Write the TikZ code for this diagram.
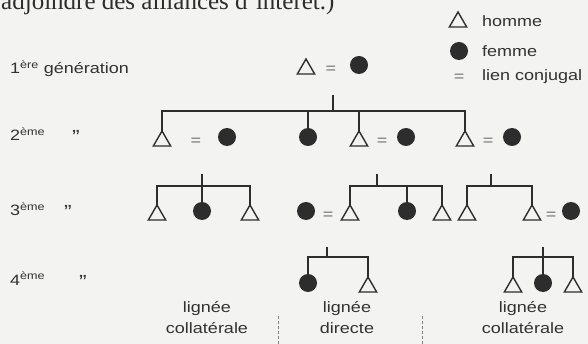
\documentclass[tikz,border=0pt]{standalone}
\usepackage{fontspec}
\setmainfont{Liberation Sans}[FakeStretch=1.2]
\newfontfamily\toptextfont{Liberation Serif}
\usetikzlibrary{shapes.geometric}
\definecolor{bgc}{RGB}{243,243,241}
\definecolor{ink}{RGB}{45,45,45}
\definecolor{txt}{RGB}{50,50,50}
\definecolor{eqc}{RGB}{110,110,110}
\begin{document}
\begin{tikzpicture}[x=1pt,y=-1pt,
  man/.style={draw=ink, line width=1.4pt, regular polygon, regular polygon sides=3, minimum size=20pt, inner sep=0pt, outer sep=0pt},
  woman/.style={circle, fill=ink, minimum size=18pt, inner sep=0pt, outer sep=0pt},
  eq/.style={text=eqc, font=\fontsize{15}{15}\selectfont, inner sep=0pt},
  lbl/.style={text=txt, font=\fontsize{15}{15}\selectfont, inner sep=0pt, anchor=base west},
  ditto/.style={text=txt, font=\fontsize{19}{19}\selectfont, inner sep=0pt, anchor=base west},
  bot/.style={text=txt, font=\fontsize{15}{21}\selectfont, inner sep=0pt, align=center, anchor=base},
  link/.style={draw=ink, line width=1.3pt},
  sep/.style={draw=gray, line width=0.8pt, dash pattern=on 3pt off 2pt}]
\useasboundingbox (0,0) rectangle (588,344);
\fill[bgc] (0,0) rectangle (588,344);

% cropped text at top
\node[anchor=base west, inner sep=0pt, text=ink, font=\toptextfont\fontsize{25}{25}\selectfont] (toptext) at (1,10) {adjoindre des alliances d’intérêt.)};

% legend
\node[man] (legm) at (458,22) {};
\node[lbl] (legmt) at (482,27) {homme};
\node[woman] (legw) at (459,51) {};
\node[lbl] (legwt) at (482,57) {femme};
\node[eq] (lege) at (459,78) {=};
\node[lbl] (leget) at (482,81) {lien conjugal};

% generation labels
\node[lbl] (L1) at (10,74) {1\textsuperscript{ère} génération};
\node[lbl] (L2) at (10,141) {2\textsuperscript{ème}};
\node[ditto] (D2) at (72,144) {”};
\node[lbl] (L3) at (10,216) {3\textsuperscript{ème}};
\node[ditto] (D3) at (64,219) {”};
\node[lbl] (L4) at (10,285) {4\textsuperscript{ème}};
\node[ditto] (D4) at (79,288) {”};

% generation 1
\node[man] (a1) at (306,69) {};
\node[eq] (e1) at (331,70) {=};
\node[woman] (b1) at (359,65) {};
\coordinate (t1) at (333,95);
\coordinate (r1) at (333,111);

% generation 2
\node[man] (g2a) at (162,141) {};
\node[eq] (g2b) at (196,142) {=};
\node[woman] (g2c) at (227,137) {};
\node[woman] (g2d) at (308,137) {};
\node[man] (g2e) at (359,141) {};
\node[eq] (g2f) at (382,142) {=};
\node[woman] (g2g) at (406,137) {};
\node[man] (g2h) at (465,141) {};
\node[eq] (g2i) at (488,142) {=};
\node[woman] (g2j) at (512,137) {};

\draw[link] (t1) -- (r1);
\draw[link] (g2a.corner 1) -- (g2a.corner 1 |- r1) -- (g2h.corner 1 |- r1) -- (g2h.corner 1);
\draw[link] (g2d.north) -- (g2d.north |- r1);
\draw[link] (g2e.corner 1) -- (g2e.corner 1 |- r1);

% generation 3
\node[man] (g3a) at (157,215) {};
\node[woman] (g3b) at (202,211) {};
\node[man] (g3c) at (250,215) {};
\node[woman] (g3d) at (306,211) {};
\node[eq] (g3e) at (328,216) {=};
\node[man] (g3f) at (350,215) {};
\node[woman] (g3g) at (407,211) {};
\node[man] (g3h) at (442,215) {};
\node[man] (g3i) at (467,215) {};
\node[man] (g3j) at (532,215) {};
\node[eq] (g3k) at (551,216) {=};
\node[woman] (g3l) at (571,211) {};

\coordinate (t3a) at (202,174);
\coordinate (r3a) at (202,186);
\draw[link] (t3a) -- (g3b.north);
\draw[link] (g3a.corner 1) -- (g3a.corner 1 |- r3a) -- (g3c.corner 1 |- r3a) -- (g3c.corner 1);

\coordinate (t3b) at (377,174);
\coordinate (r3b) at (377,186);
\draw[link] (t3b) -- (r3b);
\draw[link] (g3f.corner 1) -- (g3f.corner 1 |- r3b) -- (g3h.corner 1 |- r3b) -- (g3h.corner 1);
\draw[link] (g3g.north) -- (g3g.north |- r3b);

\coordinate (t3c) at (491,174);
\coordinate (r3c) at (491,186);
\draw[link] (t3c) -- (r3c);
\draw[link] (g3i.corner 1) -- (g3i.corner 1 |- r3c) -- (g3j.corner 1 |- r3c) -- (g3j.corner 1);

% generation 4
\node[woman] (g4a) at (308,283) {};
\node[man] (g4b) at (368,287) {};
\node[man] (g4c) at (513,287) {};
\node[woman] (g4d) at (543,283) {};
\node[man] (g4e) at (573,287) {};

\coordinate (t4a) at (327,247);
\coordinate (r4a) at (327,257);
\draw[link] (t4a) -- (r4a);
\draw[link] (g4a.north) -- (g4a.north |- r4a) -- (g4b.corner 1 |- r4a) -- (g4b.corner 1);

\coordinate (t4b) at (543,247);
\coordinate (r4b) at (543,257);
\draw[link] (t4b) -- (g4d.north);
\draw[link] (g4c.corner 1) -- (g4c.corner 1 |- r4b) -- (g4e.corner 1 |- r4b) -- (g4e.corner 1);

% bottom labels
\node[bot] (B1) at (207,333) {lignée\\collatérale};
\node[bot] (B2) at (347,333) {lignée\\directe};
\node[bot] (B3) at (523,333) {lignée\\collatérale};
\coordinate (s1a) at (278,316);
\coordinate (s1b) at (278,344);
\coordinate (s2a) at (422,316);
\coordinate (s2b) at (422,344);
\draw[sep] (s1a) -- (s1b);
\draw[sep] (s2a) -- (s2b);
\end{tikzpicture}
\end{document}
